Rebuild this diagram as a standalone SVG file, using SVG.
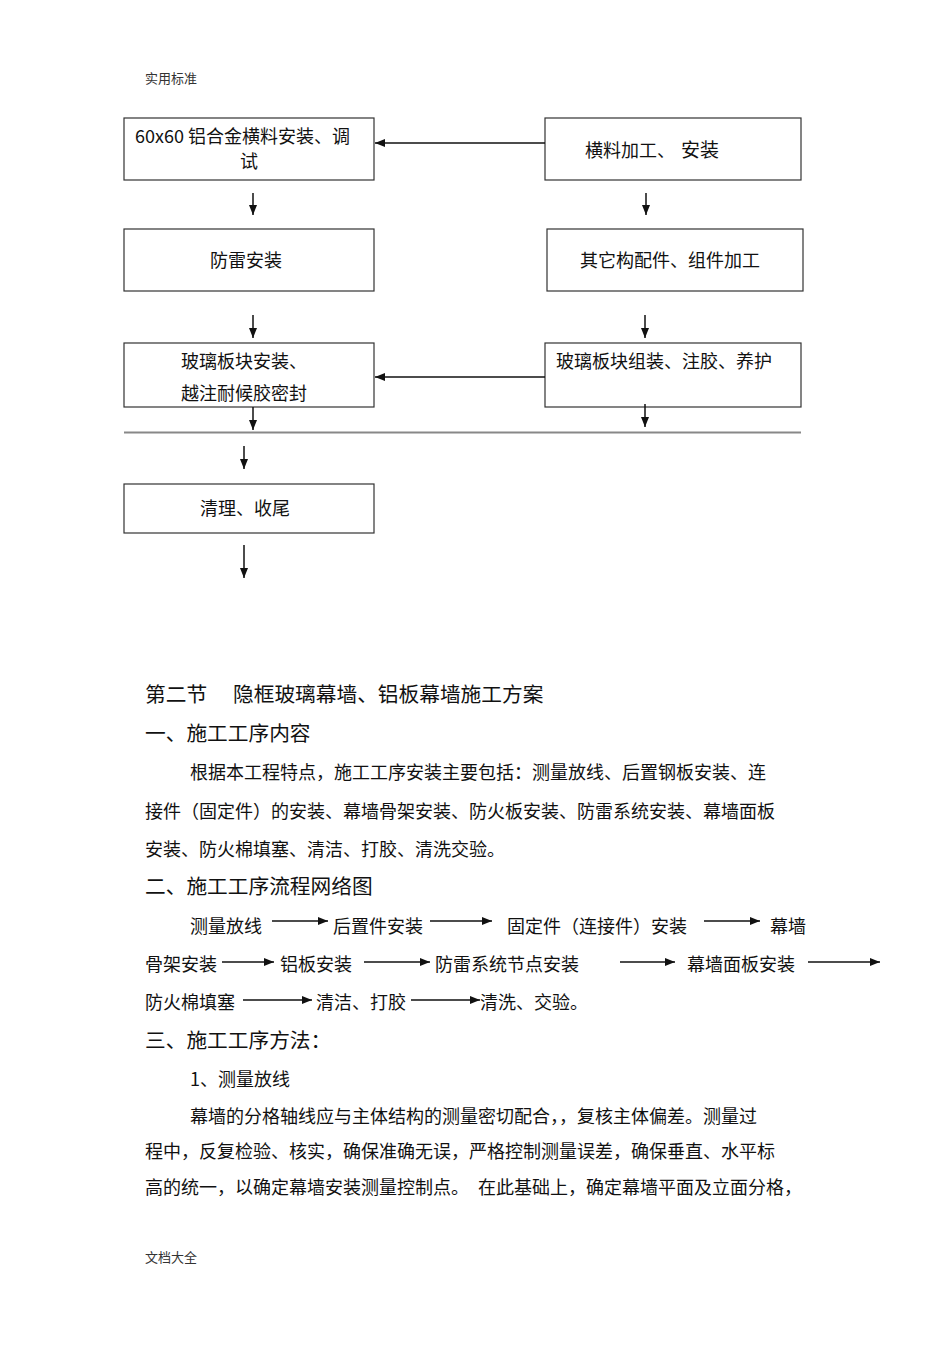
<svg xmlns="http://www.w3.org/2000/svg" width="950" height="1345" viewBox="0 0 950 1345">
<defs>
<marker id="ah" viewBox="0 0 10 8" refX="10" refY="4" markerWidth="10" markerHeight="8" markerUnits="userSpaceOnUse" orient="auto">
<path d="M0,0 L10,4 L0,8 Z" fill="#111"/>
</marker>
</defs>
<style>
text{font-family:"Noto Sans CJK SC","Liberation Sans",sans-serif;fill:#111;}
.b{font-size:18px;}
.h{font-size:20.7px;}
.s{font-size:13px;fill:#333;}
.box{fill:#fff;stroke:#333;stroke-width:1.2;}
.ln{stroke:#111;stroke-width:1.5;fill:none;marker-end:url(#ah);}
</style>
<rect width="950" height="1345" fill="#fff"/>
<text class="s" x="145" y="83">实用标准</text>

<g id="n1"><rect class="box" x="124" y="118" width="250" height="62"/>
<text class="b" x="135" y="143">60x60 铝合金横料安装、调</text>
<text class="b" x="240" y="168">试</text></g>
<g id="n2"><rect class="box" x="545" y="118" width="256" height="62"/>
<text class="b" x="585" y="157">横料加工、 <tspan x="681" font-size="19">安装</tspan></text></g>
<g id="n3"><rect class="box" x="124" y="229" width="250" height="62"/>
<text class="b" x="210" y="267">防雷安装</text></g>
<g id="n4"><rect class="box" x="547" y="229" width="256" height="62"/>
<text class="b" x="580" y="267">其它构配件、组件加工</text></g>
<g id="n5"><rect class="box" x="124" y="343" width="250" height="64"/>
<text class="b" x="181" y="368">玻璃板块安装、</text>
<text class="b" x="181" y="400">越注耐候胶密封</text></g>
<g id="n6"><rect class="box" x="545" y="343" width="256" height="64"/>
<text class="b" x="556" y="368">玻璃板块组装、注胶、养护</text></g>
<g id="n7"><rect class="box" x="124" y="484" width="250" height="49"/>
<text class="b" x="200" y="515">清理、收尾</text></g>

<g id="connectors">
<line class="ln" x1="545" y1="143" x2="375" y2="143"/>
<line class="ln" x1="253" y1="193" x2="253" y2="215"/>
<line class="ln" x1="646" y1="193" x2="646" y2="215"/>
<line class="ln" x1="253" y1="315" x2="253" y2="338"/>
<line class="ln" x1="645" y1="315" x2="645" y2="338"/>
<line class="ln" x1="545" y1="377" x2="375" y2="377"/>
<line class="ln" x1="253" y1="407" x2="253" y2="430"/>
<line class="ln" x1="645" y1="404" x2="645" y2="427"/>
<line x1="124" y1="432.5" x2="801" y2="432.5" stroke="#888" stroke-width="2"/>
<line class="ln" x1="244" y1="446" x2="244" y2="469"/>
<line class="ln" x1="244" y1="545" x2="244" y2="578"/>
</g>

<g id="body">
<text class="h" x="145" y="702">第二节</text>
<text class="h" x="233" y="702">隐框玻璃幕墙、铝板幕墙施工方案</text>
<text class="h" x="145" y="741">一、施工工序内容</text>
<text class="b" x="190" y="779">根据本工程特点，施工工序安装主要包括：测量放线、后置钢板安装、连</text>
<text class="b" x="145" y="818">接件（固定件）的安装、幕墙骨架安装、防火板安装、防雷系统安装、幕墙面板</text>
<text class="b" x="145" y="856">安装、防火棉填塞、清洁、打胶、清洗交验。</text>
<text class="h" x="145" y="894">二、施工工序流程网络图</text>

<text class="b" x="190" y="933">测量放线</text>
<text class="b" x="333" y="933">后置件安装</text>
<text class="b" x="507" y="933">固定件（连接件）安装</text>
<text class="b" x="770" y="933">幕墙</text>
<text class="b" x="145" y="971">骨架安装</text>
<text class="b" x="280" y="971">铝板安装</text>
<text class="b" x="435" y="971">防雷系统节点安装</text>
<text class="b" x="687" y="971">幕墙面板安装</text>
<text class="b" x="145" y="1009">防火棉填塞</text>
<text class="b" x="316" y="1009">清洁、打胶</text>
<text class="b" x="480" y="1009">清洗、交验。</text>

<text class="h" x="145" y="1048">三、施工工序方法：</text>
<text class="b" x="190" y="1086">1、测量放线</text>
<text class="b" x="190" y="1123">幕墙的分格轴线应与主体结构的测量密切配合，，复核主体偏差。测量过</text>
<text class="b" x="145" y="1158">程中，反复检验、核实，确保准确无误，严格控制测量误差，确保垂直、水平标</text>
<text class="b" x="145" y="1194">高的统一，以确定幕墙安装测量控制点。</text>
<text class="b" x="478" y="1194">在此基础上，确定幕墙平面及立面分格，</text>
</g>

<g id="flow-arrows">
<line class="ln" x1="272" y1="921" x2="328" y2="921"/>
<line class="ln" x1="430" y1="921" x2="492" y2="921"/>
<line class="ln" x1="704" y1="921" x2="760" y2="921"/>
<line class="ln" x1="222" y1="962" x2="274" y2="962"/>
<line class="ln" x1="364" y1="962" x2="430" y2="962"/>
<line class="ln" x1="620" y1="962" x2="675" y2="962"/>
<line class="ln" x1="808" y1="962" x2="880" y2="962"/>
<line class="ln" x1="243" y1="1000" x2="312" y2="1000"/>
<line class="ln" x1="411" y1="1000" x2="480" y2="1000"/>
</g>

<text class="s" x="145" y="1262">文档大全</text>
</svg>
